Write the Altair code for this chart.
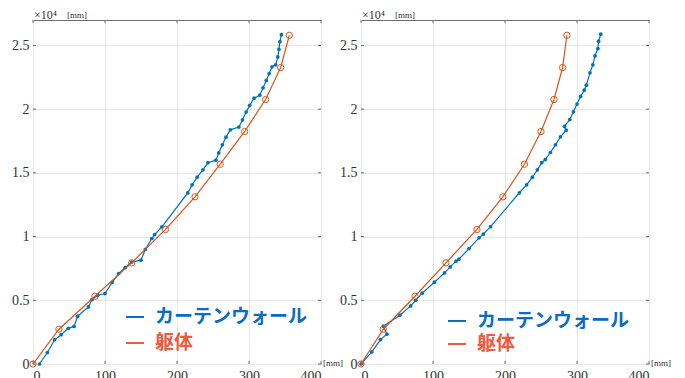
import altair as alt
import pandas as pd

# ---------------- data ----------------
floor_y = [0, 2730, 5320, 7940, 10560, 13120, 15680, 18250, 20760, 23270, 25800]
left_body_x = [0, 36, 86, 137, 184, 225, 260, 294, 323, 344, 356]
right_body_x = [0, 31, 75, 118, 161, 197, 227, 250, 268, 280, 286]

left_cw_x = [9, 20, 30, 39, 49, 57, 62, 77, 82, 90, 100, 110, 119, 128, 137, 150, 156, 165,
             169, 179, 215, 221, 228, 236, 243, 254, 258, 263, 268, 274, 286, 291, 296, 301,
             307, 315, 319.5, 324, 328, 332, 337, 340, 341.5, 343, 345]
left_cw_y = [0, 900, 1900, 2300, 2800, 2950, 3750, 4480, 5060, 5400, 5530, 6400, 7100, 7570,
             8000, 8150, 8990, 9850, 10160, 10760, 13430, 14060, 14660, 15240, 15800, 16000,
             16570, 17200, 17800, 18380, 18600, 19170, 19770, 20300, 20860, 21100, 21680,
             22260, 22800, 23330, 23480, 24100, 24700, 25300, 25850]

right_cw_x = [0, 15, 27, 36, 31, 54, 69, 76, 85, 102, 116, 124, 132, 136, 150, 164, 170, 180,
              220, 230, 238, 245, 251, 256, 263, 270, 277, 285, 282.5, 290, 295, 300, 305, 310,
              313, 318, 322, 325, 329, 330, 333]
right_cw_y = [0, 950, 1920, 2340, 2970, 3830, 4560, 5000, 5560, 6420, 7150, 7620, 8070, 8230,
              9060, 9900, 10200, 10780, 13440, 14060, 14660, 15240, 15800, 16050, 16600, 17200,
              17830, 18350, 18650, 19190, 19790, 20400, 21000, 21490, 21880, 22850, 23480,
              24180, 24760, 25340, 25890]

x_ticks = [0, 100, 200, 300, 400]
y_ticks = [0, 5000, 10000, 15000, 20000, 25000]
series_names = ["カーテンウォール", "躯体"]

# ---------------- style ----------------
BLUE = "#0072BD"
ORANGE = "#D95319"
BLUE_T = "#0A6CC4"
ORANGE_T = "#EE5A3B"
FRAME = "#6b6b6b"
W, H = 288, 344
SERIF = "Liberation Serif, Times New Roman, DejaVu Serif, serif"
JP = "Noto Sans CJK JP"

xs = alt.Scale(domain=[0, 400], nice=False, zero=False)
ys = alt.Scale(domain=[0, 27000], nice=False)


def panel(cw_x, cw_y, body_x, leg_y1, leg_y2, leg_x0):
    cw = pd.DataFrame({"x": cw_x, "y": cw_y, "i": list(range(len(cw_x)))})
    body = pd.DataFrame({"x": body_x, "y": floor_y, "i": list(range(len(body_x)))})

    xenc = alt.X("x:Q", scale=xs,
                 axis=alt.Axis(values=x_ticks, title=None, grid=True, ticks=False,
                               domain=False, labelPadding=5, labelBaseline="top",
                               labelFont=SERIF, labelFontSize=14))
    yenc = alt.Y("y:Q", scale=ys,
                 axis=alt.Axis(values=y_ticks, title=None, grid=True, ticks=False,
                               domain=False, labelPadding=4, labelFont=SERIF,
                               labelFontSize=14, labelExpr="datum.value / 10000"))

    cw_line = alt.Chart(cw).mark_line(color=BLUE, strokeWidth=1.2).encode(
        x=xenc, y=yenc, order="i:Q")
    cw_pts = alt.Chart(cw).mark_circle(color=BLUE, size=14, opacity=1).encode(
        x="x:Q", y="y:Q")
    body_line = alt.Chart(body).mark_line(color=ORANGE, strokeWidth=1.2).encode(
        x="x:Q", y="y:Q", order="i:Q")
    body_pts = alt.Chart(body).mark_point(color=ORANGE, shape="circle", filled=False,
                                          size=40, strokeWidth=1, opacity=1).encode(
        x="x:Q", y="y:Q")

    yt = pd.DataFrame({"y": y_ticks})
    xt = pd.DataFrame({"x": x_ticks})
    tick_l = alt.Chart(yt).mark_rule(color=FRAME).encode(
        y="y:Q", x=alt.value(0), x2=alt.value(3))
    tick_r = alt.Chart(yt).mark_rule(color=FRAME).encode(
        y="y:Q", x=alt.value(W - 3), x2=alt.value(W))
    tick_b = alt.Chart(xt).mark_rule(color=FRAME).encode(
        x="x:Q", y=alt.value(H - 3), y2=alt.value(H))
    tick_t = alt.Chart(xt).mark_rule(color=FRAME).encode(
        x="x:Q", y=alt.value(0), y2=alt.value(3))

    lg1 = pd.DataFrame({"name": [series_names[0]]})
    lg2 = pd.DataFrame({"name": [series_names[1]]})
    leg_r1 = alt.Chart(lg1).mark_rule(color=BLUE_T, strokeWidth=2).encode(
        x=alt.value(leg_x0), x2=alt.value(leg_x0 + 18), y=alt.value(leg_y1))
    leg_r2 = alt.Chart(lg2).mark_rule(color=ORANGE_T, strokeWidth=2).encode(
        x=alt.value(leg_x0), x2=alt.value(leg_x0 + 18), y=alt.value(leg_y2))
    leg_t1 = alt.Chart(lg1).mark_text(color=BLUE_T, font=JP, fontSize=19, fontWeight="bold",
                                      align="left", baseline="middle").encode(
        text="name:N", x=alt.value(leg_x0 + 29), y=alt.value(leg_y1))
    leg_t2 = alt.Chart(lg2).mark_text(color=ORANGE_T, font=JP, fontSize=19, fontWeight="bold",
                                      align="left", baseline="middle").encode(
        text="name:N", x=alt.value(leg_x0 + 29), y=alt.value(leg_y2))

    one = pd.DataFrame({"a": [0]})
    exp_t = alt.Chart(one).mark_text(text="×10⁴", font=SERIF, fontSize=12, color="#333",
                                     align="left", baseline="top").encode(
        x=alt.value(1), y=alt.value(-10))
    mm_t = alt.Chart(one).mark_text(text="[mm]", font=SERIF, fontSize=9, color="#333",
                                    align="left", baseline="top").encode(
        x=alt.value(34), y=alt.value(-9))
    mm_b = alt.Chart(one).mark_text(text="[mm]", font=SERIF, fontSize=9, color="#333",
                                    align="left", baseline="middle").encode(
        x=alt.value(W + 2), y=alt.value(H - 1))

    return alt.layer(cw_line, cw_pts, body_line, body_pts, tick_l, tick_r, tick_b, tick_t,
                     leg_r1, leg_r2, leg_t1, leg_t2, exp_t, mm_t, mm_b).properties(
        width=W, height=H)


left = panel(left_cw_x, left_cw_y, left_body_x, 297, 323, 93)
right = panel(right_cw_x, right_cw_y, right_body_x, 301, 324, 87)

chart = alt.hconcat(left, right, spacing=40, bounds="flush").properties(
    padding={"left": 3, "top": 0, "right": 4, "bottom": 0}
).configure_view(
    stroke=FRAME, strokeWidth=1
).configure_axis(
    gridColor="#e6e6e6", gridWidth=1, labelFont=SERIF, labelFontSize=14,
    labelColor="#333333"
)

chart.save("out.html", embed_options={"renderer": "svg", "actions": False})
